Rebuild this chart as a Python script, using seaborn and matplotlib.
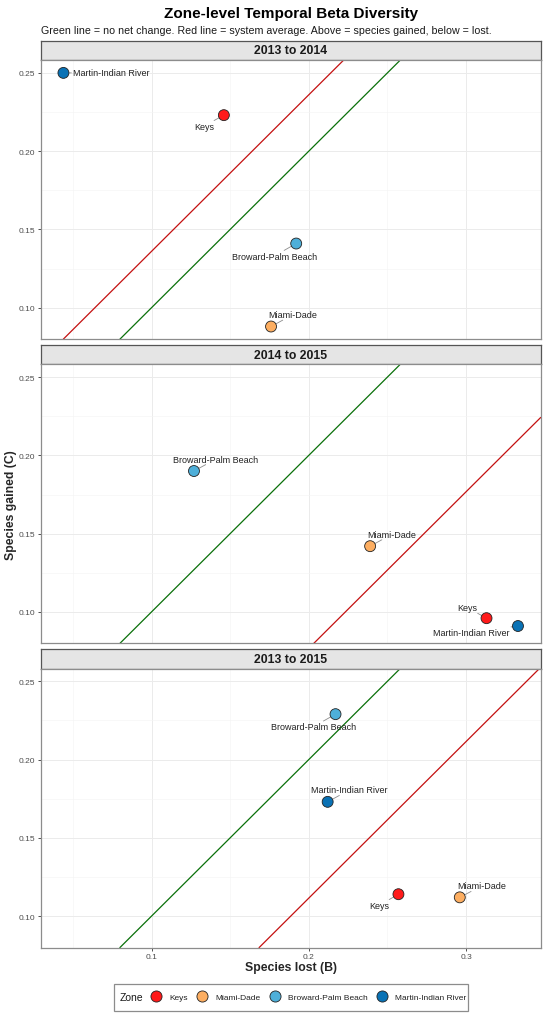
import matplotlib
matplotlib.use("Agg")
import matplotlib.pyplot as plt
import seaborn as sns
import pandas as pd
import numpy as np
from matplotlib.lines import Line2D
from matplotlib.patches import Rectangle

# Daten: Verlust (B) und Zugewinn (C) pro Zone und Zeitraum
periods = ["2013 to 2014", "2014 to 2015", "2013 to 2015"]
zones = ["Keys", "Miami-Dade", "Broward-Palm Beach", "Martin-Indian River"]

lost_b = {
    "2013 to 2014": [0.146, 0.176, 0.192, 0.044],
    "2014 to 2015": [0.313, 0.239, 0.127, 0.333],
    "2013 to 2015": [0.257, 0.296, 0.217, 0.212],
}
gained_c = {
    "2013 to 2014": [0.223, 0.088, 0.141, 0.250],
    "2014 to 2015": [0.096, 0.142, 0.190, 0.091],
    "2013 to 2015": [0.114, 0.112, 0.229, 0.173],
}

zone_colors = ["#FF1A1A", "#FDAE61", "#4EAFD9", "#0A72B5"]

# Label-Versatz in Pixeln (dx nach rechts, dy nach unten), wie ggrepel
label_offsets = {
    "2013 to 2014": [(-20, 11), (22, -12), (-22, 12.5), (48, 0)],
    "2014 to 2015": [(-19, -10.5), (22, -12), (22, -12), (-47, 6)],
    "2013 to 2015": [(-19, 11), (22, -11.5), (-22, 12.5), (22, -12)],
}

rows = []
for p in periods:
    for z, b, c in zip(zones, lost_b[p], gained_c[p]):
        rows.append({"Period": p, "Zone": z, "B": b, "C": c})
df = pd.DataFrame(rows)

sns.set_theme(style="white")
plt.rcParams["font.family"] = ["Liberation Sans", "DejaVu Sans"]

W, H = 550, 1020
fig = plt.figure(figsize=(W / 100, H / 100), dpi=100)

def fx(px):
    return px / W

def fy(py):
    return 1 - py / H

# gemeinsame Skalen mit 5 % Erweiterung wie ggplot
xr = df["B"].max() - df["B"].min()
yr = df["C"].max() - df["C"].min()
xlim = (df["B"].min() - 0.05 * xr, df["B"].max() + 0.05 * xr)
ylim = (df["C"].min() - 0.05 * yr, df["C"].max() + 0.05 * yr)

left, right = 40.7, 540.7
strip_h, plot_h, step = 19.5, 279, 304.2
tick_col = "#4D4D4D"

for i, p in enumerate(periods):
    top = 41.7 + i * step
    # Streifen
    sax = fig.add_axes([fx(left), fy(top + strip_h), fx(right - left), strip_h / H])
    sax.set_facecolor("#E5E5E5")
    sax.set_xticks([])
    sax.set_yticks([])
    for s in sax.spines.values():
        s.set_color("#555555")
        s.set_linewidth(0.9)
    sax.text(0.5, 0.5, p, ha="center", va="center", fontsize=8.8,
             fontweight="bold", color="#1A1A1A", transform=sax.transAxes)

    ax = fig.add_axes([fx(left), fy(top + strip_h + plot_h), fx(right - left), plot_h / H])
    sub = df[df["Period"] == p]

    ax.set_xlim(xlim)
    ax.set_ylim(ylim)
    ax.set_xticks([0.1, 0.2, 0.3])
    ax.set_xticks([0.05, 0.15, 0.25], minor=True)
    ax.set_yticks([0.10, 0.15, 0.20, 0.25])
    ax.set_yticks([0.125, 0.175, 0.225], minor=True)
    ax.grid(True, which="major", color="#EBEBEB", linewidth=0.7)
    ax.grid(True, which="minor", color="#F4F4F4", linewidth=0.4)
    ax.set_axisbelow(True)

    # gruene Linie: kein Nettowandel, rote Linie: Systemmittel
    avg = np.mean(sub["C"] - sub["B"])
    ax.axline((0, 0), slope=1, color="#0A700A", linewidth=0.9, zorder=1)
    ax.axline((0, avg), slope=1, color="#C41010", linewidth=0.9, zorder=1)

    sns.scatterplot(data=sub, x="B", y="C", hue="Zone", hue_order=zones,
                    palette=zone_colors, s=62, edgecolor="#222222",
                    linewidth=0.6, legend=False, ax=ax, zorder=3)

    for (z, b, c), (dx, dy) in zip(zip(zones, lost_b[p], gained_c[p]), label_offsets[p]):
        ax.annotate(z, xy=(b, c), xytext=(dx, -dy), textcoords="offset pixels",
                    ha="center", va="center", fontsize=6.5, color="#222222",
                    zorder=2,
                    bbox=dict(boxstyle="square,pad=0.05", fc="none", ec="none"),
                    arrowprops=dict(arrowstyle="-", color="#8C8C8C", lw=0.6,
                                    shrinkA=1.0, shrinkB=0))

    ax.set_xlabel("")
    ax.set_ylabel("")
    for s in ax.spines.values():
        s.set_color("#8C8C8C")
        s.set_linewidth(0.9)
    ax.tick_params(axis="y", which="major", left=True, length=2.5, width=0.6,
                   color="#333333", labelsize=6, labelcolor=tick_col, pad=1.5)
    ax.tick_params(axis="both", which="minor", length=0)
    ax.set_yticklabels(["0.10", "0.15", "0.20", "0.25"])
    if i == len(periods) - 1:
        ax.tick_params(axis="x", which="major", bottom=True, length=2.5, width=0.6,
                       color="#333333", labelsize=6, labelcolor=tick_col, pad=1.5)
        ax.set_xticklabels(["0.1", "0.2", "0.3"])
    else:
        ax.tick_params(axis="x", which="major", bottom=False, labelbottom=False)

# Titel und Untertitel
fig.text(fx((left + right) / 2), fy(18.3), "Zone-level Temporal Beta Diversity",
         ha="center", va="baseline", fontsize=11, fontweight="bold", color="black")
fig.text(fx(left), fy(34.3),
         "Green line = no net change. Red line = system average. Above = species gained, below = lost.",
         ha="left", va="baseline", fontsize=7.7, color="#1A1A1A")

# Achsenbeschriftungen
fig.text(fx((left + right) / 2), fy(968), "Species lost (B)", ha="center", va="center",
         fontsize=8.8, fontweight="bold")
fig.text(fx(11.5), fy(505), "Species gained (C)", ha="center", va="center",
         rotation=90, fontsize=8.8, fontweight="bold")

# Legende mit "Zone" links im Rahmen
fig.patches.append(Rectangle((fx(113.6), fy(1011.7)), fx(467.8 - 113.6), (1011.7 - 985) / H,
                             transform=fig.transFigure, facecolor="white",
                             edgecolor="#8C8C8C", linewidth=0.9))
fig.text(fx(119.2), fy(998.3), "Zone", ha="left", va="center", fontsize=7.5, color="#1A1A1A")
handles = [Line2D([], [], marker="o", linestyle="", markersize=8, markerfacecolor=col,
                  markeredgecolor="#222222", markeredgewidth=0.6) for col in zone_colors]
fig.legend(handles, zones, loc="center left", bbox_to_anchor=(fx(156.2 - 4.2), fy(998.3)),
           ncol=4, frameon=False, fontsize=6, handlelength=1.0, handletextpad=1.1,
           columnspacing=1.2, borderpad=0, borderaxespad=0, labelcolor="#222222")

fig.savefig("out.png", dpi=100)
